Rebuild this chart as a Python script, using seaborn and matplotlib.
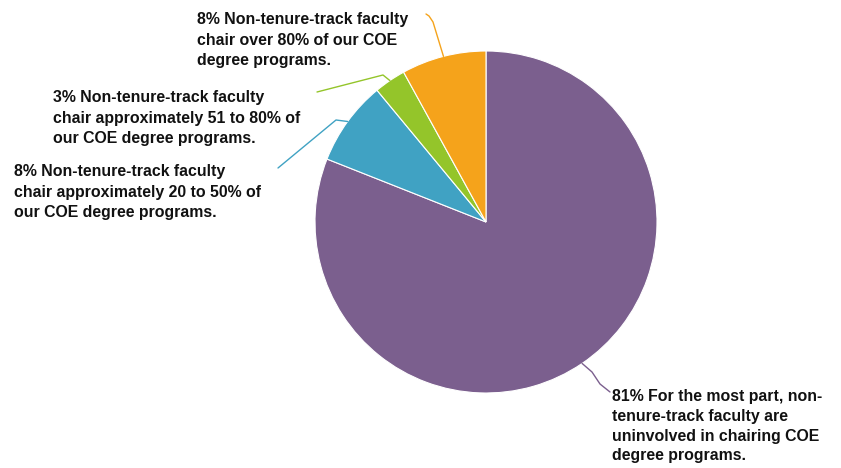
import numpy as np
import matplotlib
matplotlib.use("Agg")
import matplotlib.pyplot as plt
import seaborn as sns

labels = [
    "81% For the most part, non-\ntenure-track faculty are\nuninvolved in chairing COE\ndegree programs.",
    "8% Non-tenure-track faculty\nchair approximately 20 to 50% of\nour COE degree programs.",
    "3% Non-tenure-track faculty\nchair approximately 51 to 80% of\nour COE degree programs.",
    "8% Non-tenure-track faculty\nchair over 80% of our COE\ndegree programs.",
]
values = [81, 8, 3, 8]
colors = ["#7B5F8E", "#40A2C3", "#94C52A", "#F5A31B"]

sns.set_theme(style="white")
plt.rcParams['font.family'] = ['Liberation Sans', 'DejaVu Sans']

W, H = 841, 468
fig = plt.figure(figsize=(W / 100, H / 100), dpi=100)
ax = fig.add_axes([0, 0, 1, 1])

cx, cy, R = 486, H - 222, 171
wedges, _ = ax.pie(values, colors=colors, startangle=90, counterclock=False,
                   center=(cx, cy), radius=R, frame=True,
                   wedgeprops=dict(edgecolor="white", linewidth=0.8))
ax.set_xlim(0, W)
ax.set_ylim(0, H)
ax.set_aspect("equal")
ax.axis("off")

# leader line geometry (image coords: elbow points, end) and label anchors
leader = [
    [(592, 372), (600, 384), (610, 392)],
    [(336, 120), (278, 168)],
    [(383, 75), (317, 92)],
    [(433, 22), (429, 16), (426, 14)],
]
text_pos = [(612, 389), (14, 164), (53, 90), (197, 12)]
spacing = [1.40, 1.47, 1.47, 1.47]

for w, col, pts, tp, lab, ls in zip(wedges, colors, leader, text_pos, labels, spacing):
    ang = np.deg2rad((w.theta1 + w.theta2) / 2)
    sx, sy = cx + R * np.cos(ang), cy + R * np.sin(ang)
    xs = [sx] + [p[0] for p in pts]
    ys = [sy] + [H - p[1] for p in pts]
    ax.plot(xs, ys, color=col, lw=1.0, solid_capstyle="round")
    ax.text(tp[0], H - tp[1], lab, ha="left", va="top", fontsize=11.4,
            fontweight="bold", color="#111111", linespacing=ls)

fig.savefig("out.png", dpi=100)
